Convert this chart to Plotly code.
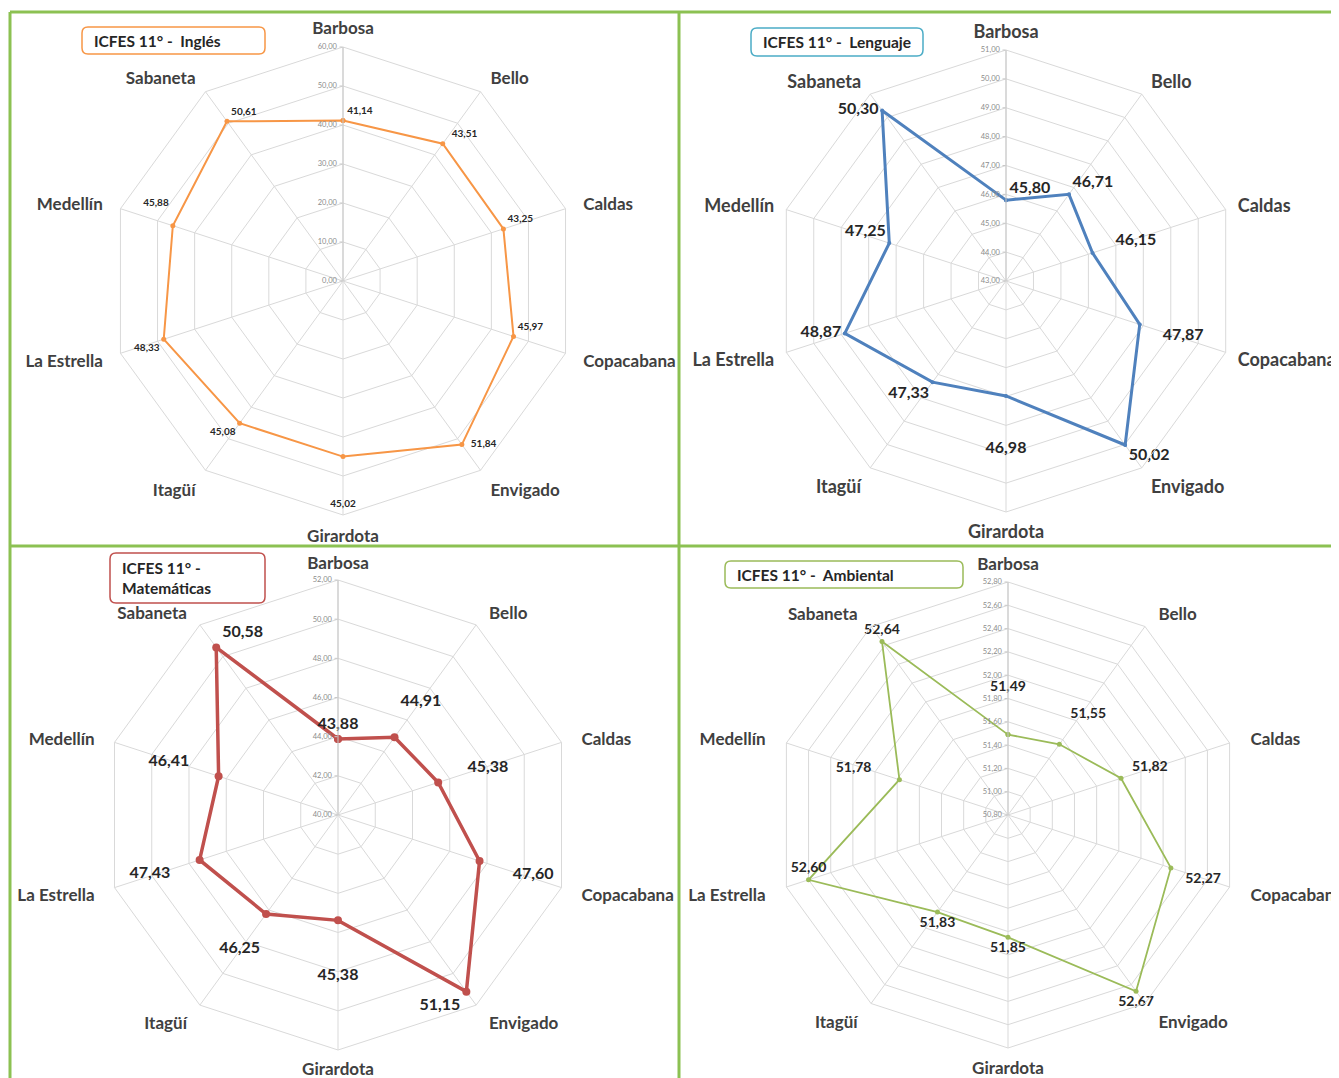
import plotly.graph_objects as go

categories = ["Barbosa", "Bello", "Caldas", "Copacabana", "Envigado",
              "Girardota", "Itagüí", "La Estrella", "Medellín", "Sabaneta"]

ingles = [41.14, 43.51, 43.25, 45.97, 51.84, 45.02, 45.08, 48.33, 45.88, 50.61]
lenguaje = [45.80, 46.71, 46.15, 47.87, 50.02, 46.98, 47.33, 48.87, 47.25, 50.30]
matematicas = [43.88, 44.91, 45.38, 47.60, 51.15, 45.38, 46.25, 47.43, 46.41, 50.58]
ambiental = [51.49, 51.55, 51.82, 52.27, 52.67, 51.85, 51.83, 52.60, 51.78, 52.64]

titles = ["ICFES 11° -  Inglés", "ICFES 11° -  Lenguaje",
          "ICFES 11° -<br>Matemáticas", "ICFES 11° -  Ambiental"]

# page has an 8px body margin; work in page pixels and convert
OFF = 8
W, H = 1339 - OFF, 1078 - OFF
NB = "\u00a0"


def fx(x):
    return (x - OFF) / W


def fy(y):
    return 1 - (y - OFF) / H


def px_dom(cx, cy, r):
    return dict(x=[fx(cx - r), fx(cx + r)], y=[fy(cy + r), fy(cy - r)])


RIGHT = {"Bello", "Caldas", "Copacabana", "Envigado"}
LEFT = {"Itagüí", "La Estrella", "Medellín", "Sabaneta"}
SIDE = {"Caldas", "Copacabana", "La Estrella", "Medellín"}


def padded(side_n, diag_n):
    out = []
    for c in categories:
        n = side_n if c in SIDE else diag_n
        sp = NB * n
        if c in RIGHT:
            out.append(sp + c)
        elif c in LEFT:
            out.append(c + sp)
        else:
            out.append(c)
    return out


# label nudges (text padding only): pre / suf = spaces, up / down = blank lines
panels = [
    dict(vals=ingles, color="#F79646", width=2, msize=5, rng=[0, 60], dtick=10,
         dom=px_dom(343, 281, 234), tsize=10, csize=17, tl=6, pad=(2, 1),
         pos=["top right", "top right", "top right", "top right", "middle right",
              "bottom center", "bottom left", "bottom left", "top left", "top right"],
         nudge={"Envigado": dict(pre=2), "Girardota": dict(down=3),
                "Medellín": dict(up=1), "Bello": dict(pre=2)}),
    dict(vals=lenguaje, color="#4F81BD", width=3, msize=4, rng=[43, 51], dtick=1,
         dom=px_dom(1006, 281, 231), tsize=16, csize=18, tl=4, pad=(1, 1),
         pos=["top right", "top right", "top right", "bottom right", "bottom right",
              "bottom center", "bottom left", "middle left", "top left", "middle left"],
         nudge={"Caldas": dict(pre=5), "Copacabana": dict(pre=5),
                "Girardota": dict(down=2)}),
    dict(vals=matematicas, color="#C0504D", width=3.5, msize=8, rng=[40, 52], dtick=2,
         dom=px_dom(338, 815, 235), tsize=16, csize=17, tl=4, pad=(3, 2),
         pos=["top center", "top right", "top right", "bottom right", "bottom left",
              "bottom center", "bottom left", "bottom left", "top left", "top right"],
         nudge={"Bello": dict(up=1), "Caldas": dict(pre=6), "Copacabana": dict(pre=7),
                "Girardota": dict(down=2), "Itagüí": dict(down=1),
                "La Estrella": dict(suf=6), "Medellín": dict(suf=6)}),
    dict(vals=ambiental, color="#9BBB59", width=1.8, msize=5, rng=[50.8, 52.8], dtick=0.2,
         dom=px_dom(1008, 815, 233), tsize=14, csize=17, tl=5, pad=(3, 2),
         pos=["top center", "top right", "top right", "bottom right", "bottom center",
              "bottom center", "bottom center", "top center", "top left", "top center"],
         nudge={"Barbosa": dict(up=2), "Bello": dict(up=1, pre=2), "Caldas": dict(pre=2),
                "Copacabana": dict(pre=3), "Medellín": dict(suf=7)}),
]


def label(v, n):
    s = f"{v:.2f}".replace(".", ",")
    s = NB * n.get("pre", 0) + s + NB * n.get("suf", 0)
    s = (NB + "<br>") * n.get("down", 0) + s + ("<br>" + NB) * n.get("up", 0)
    return s


fig = go.Figure()
layout = dict()
for i, p in enumerate(panels):
    name = "polar" if i == 0 else f"polar{i + 1}"
    vals = p["vals"] + [p["vals"][0]]
    cats = categories + [categories[0]]
    texts = [label(v, p["nudge"].get(c, {})) for v, c in zip(p["vals"], categories)] + [""]
    fig.add_trace(go.Scatterpolar(
        r=vals, theta=cats, subplot=name, mode="lines+markers+text",
        line=dict(color=p["color"], width=p["width"]),
        marker=dict(color=p["color"], size=p["msize"]),
        text=texts, textposition=p["pos"] + ["top center"],
        textfont=dict(family="Lato", size=p["tsize"], color="#262626", weight="bold"),
        showlegend=False, cliponaxis=False, hoverinfo="r+theta"))
    layout[name] = dict(
        domain=p["dom"], gridshape="linear", bgcolor="white",
        angularaxis=dict(rotation=90, direction="clockwise", categoryarray=categories,
                         categoryorder="array", tickmode="array", tickvals=categories,
                         ticktext=padded(*p["pad"]),
                         showline=True, linecolor="#D9D9D9",
                         gridcolor="#D9D9D9", ticks="outside", ticklen=p["tl"],
                         tickcolor="rgba(0,0,0,0)",
                         tickfont=dict(family="Lato", size=p["csize"], color="#404040",
                                       weight="bold")),
        radialaxis=dict(range=p["rng"], dtick=p["dtick"], angle=90, tickangle=90,
                        tickformat=".2f", showline=True, linecolor="#C8C8C8",
                        gridcolor="#D9D9D9", ticks="outside", ticklen=3,
                        tickcolor="#C8C8C8", side="counterclockwise",
                        tickfont=dict(family="Lato", size=7.5, color="#8C8C8C")),
    )

green = "#8CC152"
shapes = [
    dict(type="line", xref="paper", yref="paper", x0=fx(10), x1=1, y0=fy(12), y1=fy(12)),
    dict(type="line", xref="paper", yref="paper", x0=fx(10), x1=fx(10), y0=0, y1=fy(12)),
    dict(type="line", xref="paper", yref="paper", x0=fx(679), x1=fx(679), y0=0, y1=fy(12)),
    dict(type="line", xref="paper", yref="paper", x0=fx(10), x1=1, y0=fy(546), y1=fy(546)),
]
for s in shapes:
    s["line"] = dict(color=green, width=3)


def rounded_rect(x0, y0, x1, y1, r):
    X0, X1, Y0, Y1 = fx(x0), fx(x1), fy(y0), fy(y1)
    rx, ry = r / W, r / H
    return (f"M {X0 + rx},{Y0} L {X1 - rx},{Y0} Q {X1},{Y0} {X1},{Y0 - ry} "
            f"L {X1},{Y1 + ry} Q {X1},{Y1} {X1 - rx},{Y1} "
            f"L {X0 + rx},{Y1} Q {X0},{Y1} {X0},{Y1 + ry} "
            f"L {X0},{Y0 - ry} Q {X0},{Y0} {X0 + rx},{Y0} Z")


box_specs = [
    (82, 27, 265, 54, "#F79646"),
    (751, 28, 923, 56, "#4BACC6"),
    (110, 553, 265, 603, "#C0504D"),
    (725, 561, 963, 588, "#9BBB59"),
]
annotations = []
for (x0, y0, x1, y1, c), t in zip(box_specs, titles):
    shapes.append(dict(type="path", xref="paper", yref="paper",
                       path=rounded_rect(x0, y0, x1, y1, 6),
                       line=dict(color=c, width=1.5), fillcolor="white", layer="below"))
    annotations.append(dict(xref="paper", yref="paper", x=fx(x0 + 10),
                            y=fy((y0 + y1) / 2), xanchor="left", yanchor="middle",
                            text=t, showarrow=False, align="left",
                            font=dict(family="Lato", size=15.5, color="#262626", weight="bold")))

fig.update_layout(**layout, shapes=shapes, annotations=annotations,
                  width=W, height=H, margin=dict(l=0, r=0, t=0, b=0),
                  paper_bgcolor="white", separators=",.")
fig.write_html("out.html")
